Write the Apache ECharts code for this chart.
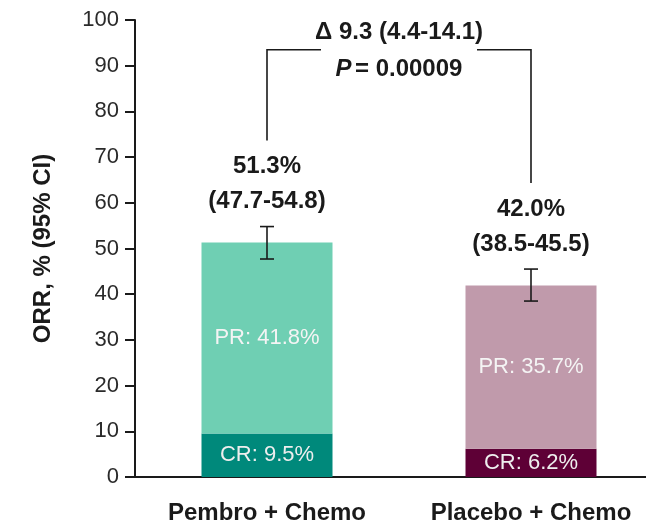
<!DOCTYPE html>
<html>
<head>
<meta charset="utf-8">
<script src="https://cdn.jsdelivr.net/npm/echarts@6/dist/echarts.min.js"></script>
<style>
  html, body { margin: 0; padding: 0; background: #ffffff; }
  #chart { width: 646px; height: 529px; }
</style>
</head>
<body>
<div id="chart"></div>
<script>
// Objective response rate by arm, split into complete and partial responses
const categories = ['Pembro + Chemo', 'Placebo + Chemo'];
const crValues = [9.5, 6.2];
const prValues = [41.8, 35.7];
const orrValues = [51.3, 42.0];
const ciLow = [47.7, 38.5];
const ciHigh = [54.8, 45.5];
const yTicks = [0, 10, 20, 30, 40, 50, 60, 70, 80, 90, 100];
const deltaText = 'Δ 9.3 (4.4-14.1)';
const pValueText = '0.00009';

const FONT = '"Liberation Sans", Arial, sans-serif';
const INK = '#1a1a1a';

const crColors = ['#00897b', '#5e0036'];
const prColors = ['#6fcfb3', '#c09aab'];

const chart = echarts.init(document.getElementById('chart'), null, { renderer: 'canvas' });

// pixel offsets used by the annotation layer
const LABEL_GAP = 25;     // ciHigh cap -> centre of the CI line
const LINE_STEP = 35;     // between the ORR line and the CI line
const FOOT_GAP = 26;      // ORR line centre -> foot of the comparison bracket
const BRACKET_LEVEL = 93.5;
const BRACKET_HALF_GAP = 78;
const BOLD = 'bold 24px ' + FONT;

const option = {
  animation: false,
  backgroundColor: '#ffffff',
  grid: {
    left: 135, top: 20, right: -17, bottom: 52,
    containLabel: false,
    outerBoundsMode: 'none'
  },
  xAxis: {
    type: 'category',
    data: categories,
    boundaryGap: true,
    axisLine: { lineStyle: { color: INK, width: 2 } },
    axisTick: { show: false },
    axisLabel: {
      interval: 0,
      margin: 24,
      color: INK,
      fontFamily: FONT,
      fontWeight: 'bold',
      fontSize: 24
    }
  },
  yAxis: {
    type: 'value',
    min: 0,
    max: 100,
    interval: 10,
    name: 'ORR, % (95% CI)',
    nameLocation: 'middle',
    nameGap: 80,
    nameRotate: 90,
    nameTextStyle: {
      color: INK,
      fontFamily: FONT,
      fontWeight: 'bold',
      fontSize: 24
    },
    splitLine: { show: false },
    axisLine: { show: true, lineStyle: { color: INK, width: 2 } },
    axisTick: { show: true, length: 10, lineStyle: { color: INK, width: 2 } },
    axisLabel: {
      margin: 16,
      color: '#2a2a2a',
      fontFamily: FONT,
      fontSize: 22,
      formatter: function (v) { return yTicks.indexOf(v) >= 0 ? String(v) : ''; }
    }
  },
  series: [
    {
      name: 'CR',
      type: 'bar',
      stack: 'orr',
      barWidth: 131,
      data: crValues.map(function (v, i) {
        return { value: v, itemStyle: { color: crColors[i] } };
      }),
      label: {
        show: true,
        position: 'inside',
        color: '#eeeeee',
        fontFamily: FONT,
        fontSize: 22,
        formatter: function (p) { return 'CR: ' + p.value.toFixed(1) + '%'; }
      }
    },
    {
      name: 'PR',
      type: 'bar',
      stack: 'orr',
      barWidth: 131,
      data: prValues.map(function (v, i) {
        return { value: v, itemStyle: { color: prColors[i] } };
      }),
      label: {
        show: true,
        position: 'inside',
        color: '#f4f4f4',
        fontFamily: FONT,
        fontSize: 22,
        formatter: function (p) { return 'PR: ' + p.value.toFixed(1) + '%'; }
      }
    },
    {
      // 95% CI whiskers plus ORR labels above them
      name: 'ci',
      type: 'custom',
      z: 5,
      data: ciLow.map(function (lo, i) { return [i, lo, ciHigh[i], orrValues[i]]; }),
      renderItem: function (params, api) {
        const i = api.value(0);
        const lo = api.coord([i, api.value(1)]);
        const hi = api.coord([i, api.value(2)]);
        const half = 7;
        const lineStyle = { stroke: INK, lineWidth: 1.6 };
        const ciY = hi[1] - LABEL_GAP;
        const orrY = ciY - LINE_STEP;
        return {
          type: 'group',
          children: [
            { type: 'line', shape: { x1: hi[0], y1: hi[1], x2: lo[0], y2: lo[1] }, style: lineStyle },
            { type: 'line', shape: { x1: hi[0] - half, y1: hi[1], x2: hi[0] + half, y2: hi[1] }, style: lineStyle },
            { type: 'line', shape: { x1: lo[0] - half, y1: lo[1], x2: lo[0] + half, y2: lo[1] }, style: lineStyle },
            {
              type: 'text',
              style: {
                x: hi[0], y: orrY,
                text: api.value(3).toFixed(1) + '%',
                align: 'center', verticalAlign: 'middle',
                fill: INK, font: BOLD
              }
            },
            {
              type: 'text',
              style: {
                x: hi[0], y: ciY,
                text: '(' + api.value(1).toFixed(1) + '-' + api.value(2).toFixed(1) + ')',
                align: 'center', verticalAlign: 'middle',
                fill: INK, font: BOLD
              }
            }
          ]
        };
      }
    },
    {
      // comparison bracket between the two arms
      name: 'bracket',
      type: 'custom',
      z: 5,
      data: [[0, 1, BRACKET_LEVEL]],
      renderItem: function (params, api) {
        const level = api.value(2);
        const a = api.coord([api.value(0), level]);
        const b = api.coord([api.value(1), level]);
        const footA = api.coord([api.value(0), ciHigh[0]])[1] - LABEL_GAP - LINE_STEP - FOOT_GAP;
        const footB = api.coord([api.value(1), ciHigh[1]])[1] - LABEL_GAP - LINE_STEP - FOOT_GAP;
        const mid = (a[0] + b[0]) / 2;
        const lineStyle = { stroke: INK, lineWidth: 1.6, fill: null };
        return {
          type: 'group',
          children: [
            { type: 'polyline', shape: { points: [[a[0], footA], [a[0], a[1]], [mid - BRACKET_HALF_GAP, a[1]]] }, style: lineStyle },
            { type: 'polyline', shape: { points: [[mid + BRACKET_HALF_GAP, b[1]], [b[0], b[1]], [b[0], footB]] }, style: lineStyle },
            {
              type: 'text',
              style: {
                x: mid, y: a[1] - 17,
                text: deltaText,
                align: 'center', verticalAlign: 'middle',
                fill: INK, font: BOLD
              }
            },
            {
              type: 'text',
              style: {
                x: mid, y: a[1] + 20,
                text: '{p|P} {v|= ' + pValueText + '}',
                align: 'center', verticalAlign: 'middle',
                rich: {
                  p: { fill: INK, font: 'italic bold 24px ' + FONT },
                  v: { fill: INK, font: BOLD }
                }
              }
            }
          ]
        };
      }
    }
  ]
};

chart.setOption(option);
</script>
</body>
</html>
